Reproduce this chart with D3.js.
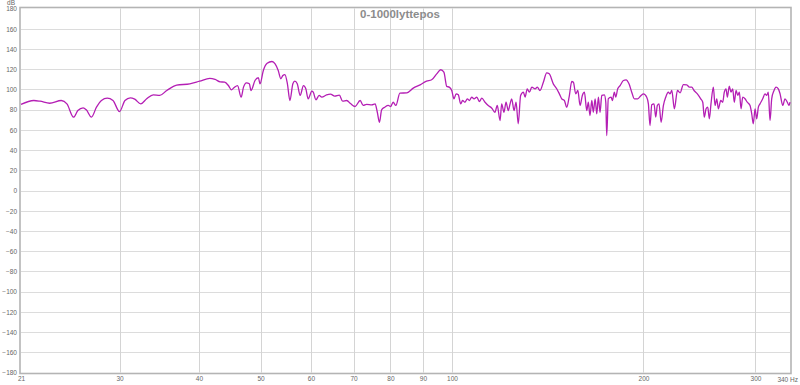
<!DOCTYPE html>
<html>
<head>
<meta charset="utf-8">
<script src="https://cdn.jsdelivr.net/npm/d3@7/dist/d3.min.js"></script>
<style>
  html, body { margin: 0; padding: 0; background: #fff; }
  svg { display: block; }
</style>
</head>
<body>
<svg id="chart" width="800" height="385"></svg>
<script>
// ---- data ----
const title = "0-1000lyttepos";
const freqs = [
  21.0, 22.0, 22.5, 23.3, 24.3, 24.8, 25.4, 25.8, 26.3, 26.6, 27.1, 27.6, 28.1, 28.7, 29.3, 30.0,
  30.6, 31.2, 31.7, 32.4, 33.1, 33.9, 34.7, 35.6, 36.9, 38.7, 40.1, 41.6, 42.4, 43.2, 43.9, 44.5,
  45.0, 45.4, 46.0, 46.6, 47.0, 47.5, 48.0, 48.3, 49.0, 49.6, 49.9, 50.5, 51.2, 52.1, 52.7, 53.3,
  53.8, 54.2, 54.6, 55.1, 55.6, 56.2, 56.6, 57.1, 57.7, 58.4, 58.9, 59.4, 60.2, 60.5, 61.1, 61.8,
  62.4, 63.5, 64.4, 65.4, 66.5, 67.3, 68.3, 69.3, 70.4, 71.7, 72.5, 73.4, 74.8, 75.7, 76.3, 76.9,
  77.5, 78.4, 79.4, 80.1, 80.8, 81.6, 82.8, 84.9, 86.9, 89.1, 91.2, 92.9, 94.6, 96.0, 97.1, 98.1,
  99.0, 99.9,
  100.7, 101.5, 102.3, 103.2, 103.9, 104.8, 105.7, 106.5, 107.4, 108.3, 109.4, 110.4, 111.4, 112.7,
  114.0, 115.5, 116.8, 117.8, 119.0, 119.7, 120.7, 121.6, 122.6, 123.4, 124.1, 125.2, 126.1, 127.1,
  128.2, 129.5, 130.3, 131.3, 132.3, 133.5, 135.1, 136.2, 137.5, 139.2, 140.9, 142.2, 144.3, 146.1,
  147.5, 148.8, 150.2, 151.5, 152.8, 154.3, 155.2, 156.5, 157.7, 159.0, 160.3, 161.5, 162.9, 163.8,
  164.8, 165.9, 166.8, 167.9, 168.9, 169.9, 170.9, 172.0, 173.6, 174.5, 175.1, 176.1, 177.9, 178.7,
  180.0, 180.9, 182.2, 183.8, 186.0, 187.8, 189.8, 191.7, 193.5, 195.9, 198.3, 200.0, 202.4, 203.6,
  204.8, 206.1, 207.8, 209.1, 210.3, 211.6, 213.2, 215.0, 216.8, 218.9, 220.2, 221.6, 223.7, 226.2,
  228.4, 231.1, 234.0, 236.2, 238.2, 240.2, 243.1, 246.1, 247.9, 249.3, 250.9, 252.4, 253.9, 255.4,
  257.6, 259.2, 260.8, 262.3, 264.6, 266.5, 268.0, 269.7, 271.0, 272.9, 274.6, 276.3, 277.9, 279.7,
  281.4, 283.0, 284.8, 286.5, 288.9, 291.3, 294.2, 296.0, 297.7, 299.6, 301.4, 303.2, 305.0, 308.0,
  310.6, 312.5, 314.3, 316.3, 318.2, 320.9, 323.2, 325.9, 328.0, 331.2, 333.9, 336.7, 338.8, 340.0
];
const levels = [
  85.1, 89.0, 88.3, 86.3, 89.0, 85.7, 72.5, 79.1, 81.8, 79.8, 72.5, 82.4, 89.0, 91.3, 89.0, 78.1,
  89.0, 91.7, 90.3, 85.7, 90.7, 94.6, 94.0, 98.9, 104.2, 105.5, 108.1, 110.8, 109.8, 107.5, 107.1, 103.8,
  99.6, 101.6, 103.8, 92.3, 102.2, 106.5, 105.5, 98.9, 108.8, 111.5, 105.5, 118.7, 125.9, 127.6, 125.3, 118.7,
  110.5, 113.7, 114.7, 105.5, 89.0, 105.5, 108.1, 105.5, 94.0, 103.8, 100.6, 90.7, 98.2, 97.2, 89.7, 94.0,
  92.3, 94.6, 95.3, 93.3, 94.3, 88.3, 89.0, 85.7, 83.1, 89.0, 84.1, 85.1, 84.7, 85.7, 77.4, 67.5,
  79.8, 82.4, 84.1, 83.1, 87.3, 84.1, 96.3, 96.6, 101.2, 104.5, 108.1, 109.5, 115.4, 119.4, 117.0, 103.0,
  102.2, 98.9,
  90.7, 95.6, 94.6, 85.7, 89.0, 87.3, 90.7, 89.0, 92.3, 90.7, 92.3, 88.0, 91.3, 87.3,
  84.1, 81.4, 77.4, 84.1, 69.2, 85.7, 77.4, 87.3, 79.1, 85.7, 90.7, 79.1, 87.3, 66.0,
  94.0, 97.2, 92.3, 100.6, 97.2, 102.2, 100.6, 102.2, 98.9, 107.1, 116.4, 115.4, 105.5, 100.6,
  95.6, 90.7, 89.0, 82.4, 92.3, 107.8, 107.1, 95.6, 98.9, 84.1, 94.0, 97.2, 79.1, 87.3,
  74.2, 89.0, 77.4, 90.7, 75.8, 92.3, 77.4, 94.0, 94.6, 87.3, 54.4, 90.7, 92.3, 89.0,
  97.2, 92.3, 100.6, 103.8, 108.8, 109.5, 105.5, 97.2, 90.7, 90.7, 94.0, 95.6, 92.3, 85.7,
  64.3, 84.7, 85.7, 72.5, 84.1, 85.7, 67.5, 84.1, 92.3, 97.2, 95.6, 98.9, 80.8, 98.9,
  96.6, 104.8, 104.5, 102.2, 102.2, 98.9, 95.6, 90.7, 87.3, 72.5, 80.8, 82.4, 70.9, 85.7,
  102.2, 84.1, 90.7, 80.8, 89.0, 87.3, 97.2, 100.6, 92.3, 103.2, 97.2, 100.6, 87.3, 98.9,
  94.0, 97.2, 80.8, 92.3, 90.7, 87.3, 84.1, 75.8, 66.0, 80.8, 70.9, 82.4, 85.7, 90.7,
  95.6, 94.0, 97.2, 69.2, 90.7, 98.9, 102.2, 100.6, 95.6, 84.1, 90.7, 87.3, 84.1, 87.3
];
const xTicks = [21, 30, 40, 50, 60, 70, 80, 90, 100, 200, 300];
const xTickLabels = ["21", "30", "40", "50", "60", "70", "80", "90", "100", "200", "300"];
const xEndLabel = "340 Hz";
const yTicks = [180, 160, 140, 120, 100, 80, 60, 40, 20, 0, -20, -40, -60, -80, -100, -120, -140, -160, -180];
const yUnit = "dB";

// ---- drawing ----
const svg = d3.select("#chart");
const x = d3.scaleLog().domain([21, 340]).range([21, 790]);
const y = d3.scaleLinear().domain([-180, 180]).range([372.5, 8.5]);

const grid = svg.append("g");
grid.selectAll("line.h").data(yTicks.filter(d => d !== 180 && d !== -180)).enter()
  .append("line").attr("class", "h")
  .attr("x1", x(21)).attr("x2", x(340))
  .attr("y1", d => Math.round(y(d)) + 0.5).attr("y2", d => Math.round(y(d)) + 0.5)
  .attr("stroke", "#dcdcdc").attr("stroke-width", 1);
grid.selectAll("line.v").data(xTicks.slice(1)).enter()
  .append("line").attr("class", "v")
  .attr("x1", d => Math.round(x(d)) + 0.5).attr("x2", d => Math.round(x(d)) + 0.5)
  .attr("y1", y(180)).attr("y2", y(-180))
  .attr("stroke", "#d4d4d4").attr("stroke-width", 1);

// frame
svg.append("rect")
  .attr("x", 20).attr("y", 7.5).attr("width", 771).attr("height", 366)
  .attr("fill", "none").attr("stroke", "#b4b4b4").attr("stroke-width", 1.6);

// y axis labels
const yAxis = d3.axisLeft(y).tickValues(yTicks).tickSize(0).tickPadding(0).tickFormat(d3.format("d"));
const gy = svg.append("g").attr("transform", "translate(17,0)").call(yAxis);
gy.select(".domain").remove();
gy.selectAll("text").attr("font-family", "Liberation Sans, Arial, sans-serif")
  .attr("font-size", "6.5px").attr("fill", "#666").attr("dy", "0.35em");

svg.append("text").attr("x", 15).attr("y", 4.5).attr("text-anchor", "end")
  .attr("font-family", "Liberation Sans, Arial, sans-serif").attr("font-size", "6.5px")
  .attr("fill", "#666").text(yUnit);

// x axis labels
const xAxis = d3.axisBottom(x).tickValues(xTicks).tickSize(0).tickPadding(0)
  .tickFormat((d, i) => xTickLabels[i]);
const gx = svg.append("g").attr("transform", "translate(0,376)").call(xAxis);
gx.select(".domain").remove();
gx.selectAll("text").attr("font-family", "Liberation Sans, Arial, sans-serif")
  .attr("font-size", "6.5px").attr("fill", "#666").attr("dy", "0.7em");

svg.append("text").attr("x", 798).attr("y", 382)
  .attr("text-anchor", "end")
  .attr("font-family", "Liberation Sans, Arial, sans-serif").attr("font-size", "6.5px")
  .attr("fill", "#666").text(xEndLabel);

// title
svg.append("text").attr("x", 400).attr("y", 18).attr("text-anchor", "middle")
  .attr("font-family", "Liberation Sans, Arial, sans-serif").attr("font-weight", "bold")
  .attr("font-size", "11.5px").attr("fill", "#8c8c8c").text(title);

// curve
const pts = freqs.map((f, i) => [f, levels[i]]);
const line = d3.line().x(d => x(d[0])).y(d => y(d[1])).curve(d3.curveMonotoneX);
svg.append("path").datum(pts)
  .attr("d", line).attr("fill", "none")
  .attr("stroke", "#b41eb4").attr("stroke-width", 1.3).attr("stroke-linejoin", "round");
</script>
</body>
</html>
